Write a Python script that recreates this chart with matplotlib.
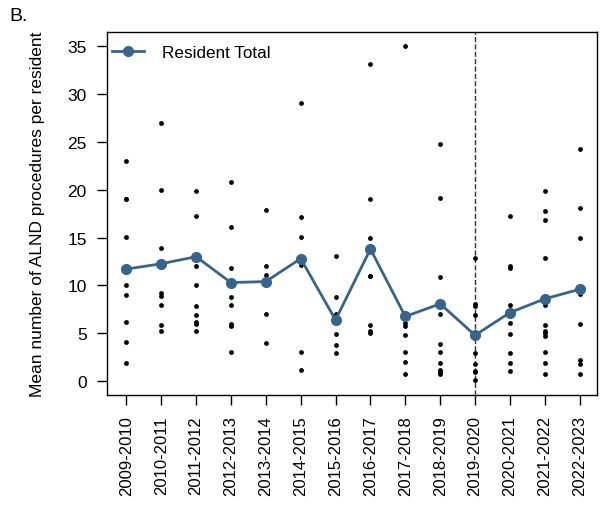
import numpy as np
import matplotlib
matplotlib.use("Agg")
import matplotlib.pyplot as plt

# Anos acadêmicos
anos = ["2009-2010", "2010-2011", "2011-2012", "2012-2013", "2013-2014",
        "2014-2015", "2015-2016", "2016-2017", "2017-2018", "2018-2019",
        "2019-2020", "2020-2021", "2021-2022", "2022-2023"]

# Procedimentos por residente (pontos individuais)
residentes = [
    [23, 19, 19, 15.1, 10, 9, 6.2, 4.1, 1.9],
    [26.9, 20, 13.9, 9.2, 8.9, 8, 5.9, 5.2],
    [19.8, 17.2, 12, 10, 7.9, 6.9, 6.2, 6, 5.2],
    [20.8, 16.1, 11.8, 8.8, 8, 6, 5.8, 3.1],
    [17.9, 12, 11.1, 7, 4],
    [29, 17.1, 15.1, 12.1, 3.1, 1.2],
    [13.1, 8.8, 7, 4.9, 3.8, 2.9],
    [33.1, 19, 14.9, 11, 11, 5.9, 5.2, 5],
    [35, 6.1, 5.8, 4.8, 3.1, 2, 0.8],
    [24.8, 19.1, 10.9, 7, 3.9, 3.1, 1.9, 1.2, 1, 0.8],
    [12.9, 8.1, 7.9, 6.9, 3, 1.8, 1.1, 1, 0.15],
    [17.2, 12, 11.8, 8, 6.1, 4.9, 2.9, 1.9, 1.1],
    [19.8, 17.8, 16.8, 12.9, 8, 5.9, 5.2, 5, 4.7, 3.1, 1.9, 0.8],
    [24.2, 18.1, 14.9, 9.1, 6, 2.2, 1.8, 0.8],
]

# Média do total de residentes
media_total = [11.7, 12.26, 13.0, 10.3, 10.4, 12.8, 6.4, 13.8, 6.76, 8.08,
               4.8, 7.17, 8.6, 9.6]

plt.rcParams["font.family"] = ["Liberation Sans", "DejaVu Sans"]

fig = plt.figure(figsize=(6.05, 5.06), dpi=100)
ax = fig.add_axes([0.177, 0.218, 0.81, 0.716])

x = np.arange(len(anos))
for i, vals in enumerate(residentes):
    ax.scatter(np.full(len(vals), x[i]), vals, s=12, color="black",
               zorder=3, linewidths=0)

ax.plot(x, media_total, color="#36648B", linewidth=2, marker="o",
        markersize=7, label="Resident Total", zorder=4)

# Linha tracejada em 2019-2020
ax.axvline(10, color="#333333", linestyle="--", linewidth=1, zorder=2)

ax.set_xlim(-0.55, 13.5)
ax.set_ylim(-1.4, 36.4)
ax.set_yticks(range(0, 36, 5))
ax.set_xticks(x)
ax.set_xticklabels(anos, rotation=90, fontsize=12)
ax.tick_params(axis="y", labelsize=12.5)
ax.tick_params(direction="out", length=7.2, width=1, pad=7.5)
ax.set_ylabel("Mean number of ALND procedures per resident", fontsize=12.5,
              labelpad=16)

for s in ax.spines.values():
    s.set_linewidth(1)

ax.legend(loc="upper left", bbox_to_anchor=(0.01, 0.966), frameon=False,
          fontsize=12.3, handlelength=1.9, handletextpad=1.0,
          borderaxespad=0, borderpad=0)

fig.text(0.015, 0.968, "B.", fontsize=14, va="center", ha="left")

fig.savefig("out.png", dpi=100)
